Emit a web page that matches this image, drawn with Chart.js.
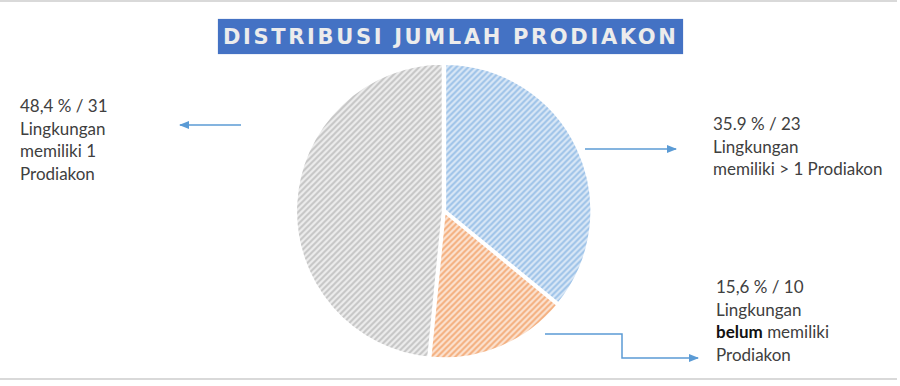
<!DOCTYPE html>
<html>
<head>
<meta charset="utf-8">
<script src="https://cdn.jsdelivr.net/npm/chart.js@4/dist/chart.umd.min.js"></script>
<style>
  html, body { margin: 0; padding: 0; background: #fff; }
  body { width: 900px; height: 386px; position: relative; overflow: hidden; }
  #frameTop { position: absolute; left: 0; top: 0; width: 897px; height: 2px; background: #d9d9d9; }
  #frameBottom { position: absolute; left: 0; top: 378px; width: 897px; height: 2px; background: #d9d9d9; }
  #title { position: absolute; left: 218px; top: 19px; width: 465px; height: 35px; background: #4472c4;
           box-shadow: 0 0 1px #8fa6d6; }
  #title span { position: absolute; left: 5px; top: 5px; font-family: "DejaVu Sans", Arial, sans-serif;
           font-weight: bold; font-size: 21px; letter-spacing: 2.65px; color: #ececec; white-space: nowrap; line-height: 26px; }
  #chartBox { position: absolute; left: 294px; top: 61px; width: 300px; height: 300px; }
  .note { position: absolute; font-family: Lato, "Open Sans", sans-serif; font-size: 17px; line-height: 22.5px;
          color: #404040; white-space: nowrap; }
  svg { position: absolute; left: 0; top: 0; }
</style>
</head>
<body>
<div id="frameTop"></div>
<div id="frameBottom"></div>
<div id="title"><span id="titleText"></span></div>
<div id="chartBox"><canvas id="c" width="300" height="300"></canvas></div>
<div class="note" id="noteLeft" style="left:20px; top:95px;"></div>
<div class="note" id="noteRight" style="left:713px; top:113px;"></div>
<div class="note" id="noteBottom" style="left:716px; top:276px;"></div>
<svg width="900" height="386">
  <defs>
    <marker id="ah" markerWidth="10" markerHeight="8" refX="9" refY="4" orient="auto" markerUnits="userSpaceOnUse">
      <path d="M0,0 L10,4 L0,8 z" fill="#5b9bd5"/>
    </marker>
  </defs>
  <line x1="241" y1="125" x2="180" y2="125" stroke="#5b9bd5" stroke-width="1.5" marker-end="url(#ah)"/>
  <line x1="585" y1="149" x2="676" y2="149" stroke="#5b9bd5" stroke-width="1.5" marker-end="url(#ah)"/>
  <polyline points="545,334 622,334 622,358 698,358" fill="none" stroke="#5b9bd5" stroke-width="1.5" marker-end="url(#ah)"/>
</svg>
<script>
// ---- data ----
const titleLabel = "DISTRIBUSI JUMLAH PRODIAKON";
const categories = ["Lingkungan memiliki > 1 Prodiakon", "Lingkungan belum memiliki Prodiakon", "Lingkungan memiliki 1 Prodiakon"];
const counts = [23, 10, 31];
const percentLabels = ["35.9 %", "15,6 %", "48,4 %"];

document.getElementById('titleText').textContent = titleLabel;
document.getElementById('noteRight').innerHTML = percentLabels[0] + " / " + counts[0] + "<br>Lingkungan<br>memiliki &gt; 1 Prodiakon";
document.getElementById('noteBottom').innerHTML = percentLabels[1] + " / " + counts[1] + "<br>Lingkungan<br><b style=\"color:#111\">belum</b> memiliki<br>Prodiakon";
document.getElementById('noteLeft').innerHTML = percentLabels[2] + " / " + counts[2] + "<br>Lingkungan<br>memiliki 1<br>Prodiakon";

function stripe(bg, fg) {
  const s = 6;
  const p = document.createElement('canvas');
  p.width = s; p.height = s;
  const g = p.getContext('2d');
  g.fillStyle = bg; g.fillRect(0, 0, s, s);
  g.strokeStyle = fg; g.lineWidth = 2;
  g.beginPath();
  g.moveTo(-1, s + 1); g.lineTo(s + 1, -1);
  g.moveTo(-1, 1); g.lineTo(1, -1);
  g.moveTo(s - 1, s + 1); g.lineTo(s + 1, s - 1);
  g.stroke();
  return g.createPattern(p, 'repeat');
}
const ctx = document.getElementById('c').getContext('2d');
const fills = [stripe('#dce9f7', '#9cc2e8'), stripe('#fce5d5', '#f4ae7c'), stripe('#ededed', '#c6c6c6')];

new Chart(ctx, {
  type: 'pie',
  data: {
    labels: categories,
    datasets: [{
      data: counts,
      backgroundColor: fills,
      borderColor: '#ffffff',
      borderWidth: 3,
      offset: 3
    }]
  },
  options: {
    responsive: false,
    animation: false,
    layout: { padding: 0 },
    plugins: { legend: { display: false }, tooltip: { enabled: false }, title: { display: false } }
  }
});
</script>
</body>
</html>
